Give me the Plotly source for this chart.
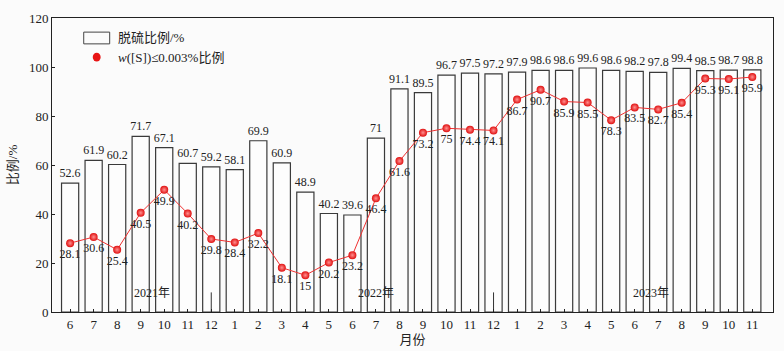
import plotly.graph_objects as go

months = ["6", "7", "8", "9", "10", "11", "12",
          "1", "2", "3", "4", "5", "6", "7", "8", "9", "10", "11", "12",
          "1", "2", "3", "4", "5", "6", "7", "8", "9", "10", "11"]
desulf = [52.6, 61.9, 60.2, 71.7, 67.1, 60.7, 59.2,
          58.1, 69.9, 60.9, 48.9, 40.2, 39.6, 71, 91.1, 89.5, 96.7, 97.5, 97.2,
          97.9, 98.6, 98.6, 99.6, 98.6, 98.2, 97.8, 99.4, 98.5, 98.7, 98.8]
low_s = [28.1, 30.6, 25.4, 40.5, 49.9, 40.2, 29.8,
         28.4, 32.2, 18.1, 15, 20.2, 23.2, 46.4, 61.6, 73.2, 75, 74.4, 74.1,
         86.7, 90.7, 85.9, 85.5, 78.3, 83.5, 82.7, 85.4, 95.3, 95.1, 95.9]
year_labels = ["2021年", "2022年", "2023年"]
year_pos = [3.5, 13, 24.7]
separators = [6, 18]
legend_names = ["脱硫比例/%", "<i>w</i>([S])≤0.003%比例"]

x = list(range(len(months)))
FONT = "Liberation Serif, Times New Roman, Noto Sans CJK SC, serif"
TXT = "#222"

def fmt(v):
    return ("%g" % v)

fig = go.Figure()
fig.add_trace(go.Bar(
    x=x, y=desulf, name=legend_names[0], showlegend=False,
    marker=dict(color="rgba(255,255,255,0.6)", line=dict(color="#3a3a3a", width=1.2)),
    width=0.73,
    text=[fmt(v) for v in desulf], textposition="outside", constraintext="none",
    textfont=dict(family=FONT, size=12, color=TXT),
    cliponaxis=False,
))
fig.add_trace(go.Scatter(
    x=x, y=low_s, name=legend_names[1], showlegend=False,
    mode="lines+markers+text",
    line=dict(color="#f03030", width=1),
    marker=dict(size=8, color="#e01010", gradient=dict(type="radial", color="#ff9090"),
                line=dict(width=0)),
    text=[fmt(v) for v in low_s], textposition="bottom center",
    textfont=dict(family=FONT, size=12, color=TXT),
    cliponaxis=False,
))
for s in separators:
    fig.add_trace(go.Scatter(x=[s, s], y=[0, 8], mode="lines",
                             line=dict(color="#333", width=1), showlegend=False,
                             hoverinfo="skip"))
for lab, p in zip(year_labels, year_pos):
    fig.add_annotation(x=p, y=7.8, text=lab, showarrow=False,
                       font=dict(family=FONT, size=12, color=TXT))

# manual legend
fig.add_shape(type="rect", xref="paper", yref="paper",
              x0=0.044, x1=0.080, y0=0.912, y1=0.952,
              line=dict(color="#444", width=1), fillcolor="rgba(255,255,255,0)")
fig.add_shape(type="circle", xref="paper", yref="paper",
              x0=0.0565, x1=0.0675, y0=0.852, y1=0.882,
              line=dict(width=0), fillcolor="#e81515")
fig.add_annotation(xref="paper", yref="paper", x=0.089, y=0.932, text=legend_names[0],
                   showarrow=False, xanchor="left", yanchor="middle",
                   font=dict(family=FONT, size=13, color=TXT))
fig.add_annotation(xref="paper", yref="paper", x=0.089, y=0.867, text=legend_names[1],
                   showarrow=False, xanchor="left", yanchor="middle",
                   font=dict(family=FONT, size=13, color=TXT))

fig.update_layout(
    width=784, height=351,
    margin=dict(l=52, r=11, t=18, b=39, autoexpand=False),
    paper_bgcolor="#fbfbfb", plot_bgcolor="#fbfbfb",
    font=dict(family=FONT, size=12, color=TXT),
    showlegend=False,
)
fig.update_xaxes(
    range=[-0.77, 29.88], tickvals=x, ticktext=months, automargin=False,
    showline=True, linecolor="#222", linewidth=1, mirror=True,
    ticks="inside", ticklen=3, tickcolor="#222", showgrid=False, zeroline=False,
    title=dict(text="月份", standoff=3, font=dict(family=FONT, size=13)),
    tickfont=dict(family=FONT, size=13),
)
fig.update_yaxes(
    range=[0, 120], tickvals=[0, 20, 40, 60, 80, 100, 120], automargin=False,
    showline=True, linecolor="#222", linewidth=1, mirror=True,
    ticks="inside", ticklen=3, tickcolor="#222", showgrid=False, zeroline=False,
    title=dict(text="比例/%", standoff=8, font=dict(family=FONT, size=13)),
    tickfont=dict(family=FONT, size=13),
)
fig.write_html("out.html")
